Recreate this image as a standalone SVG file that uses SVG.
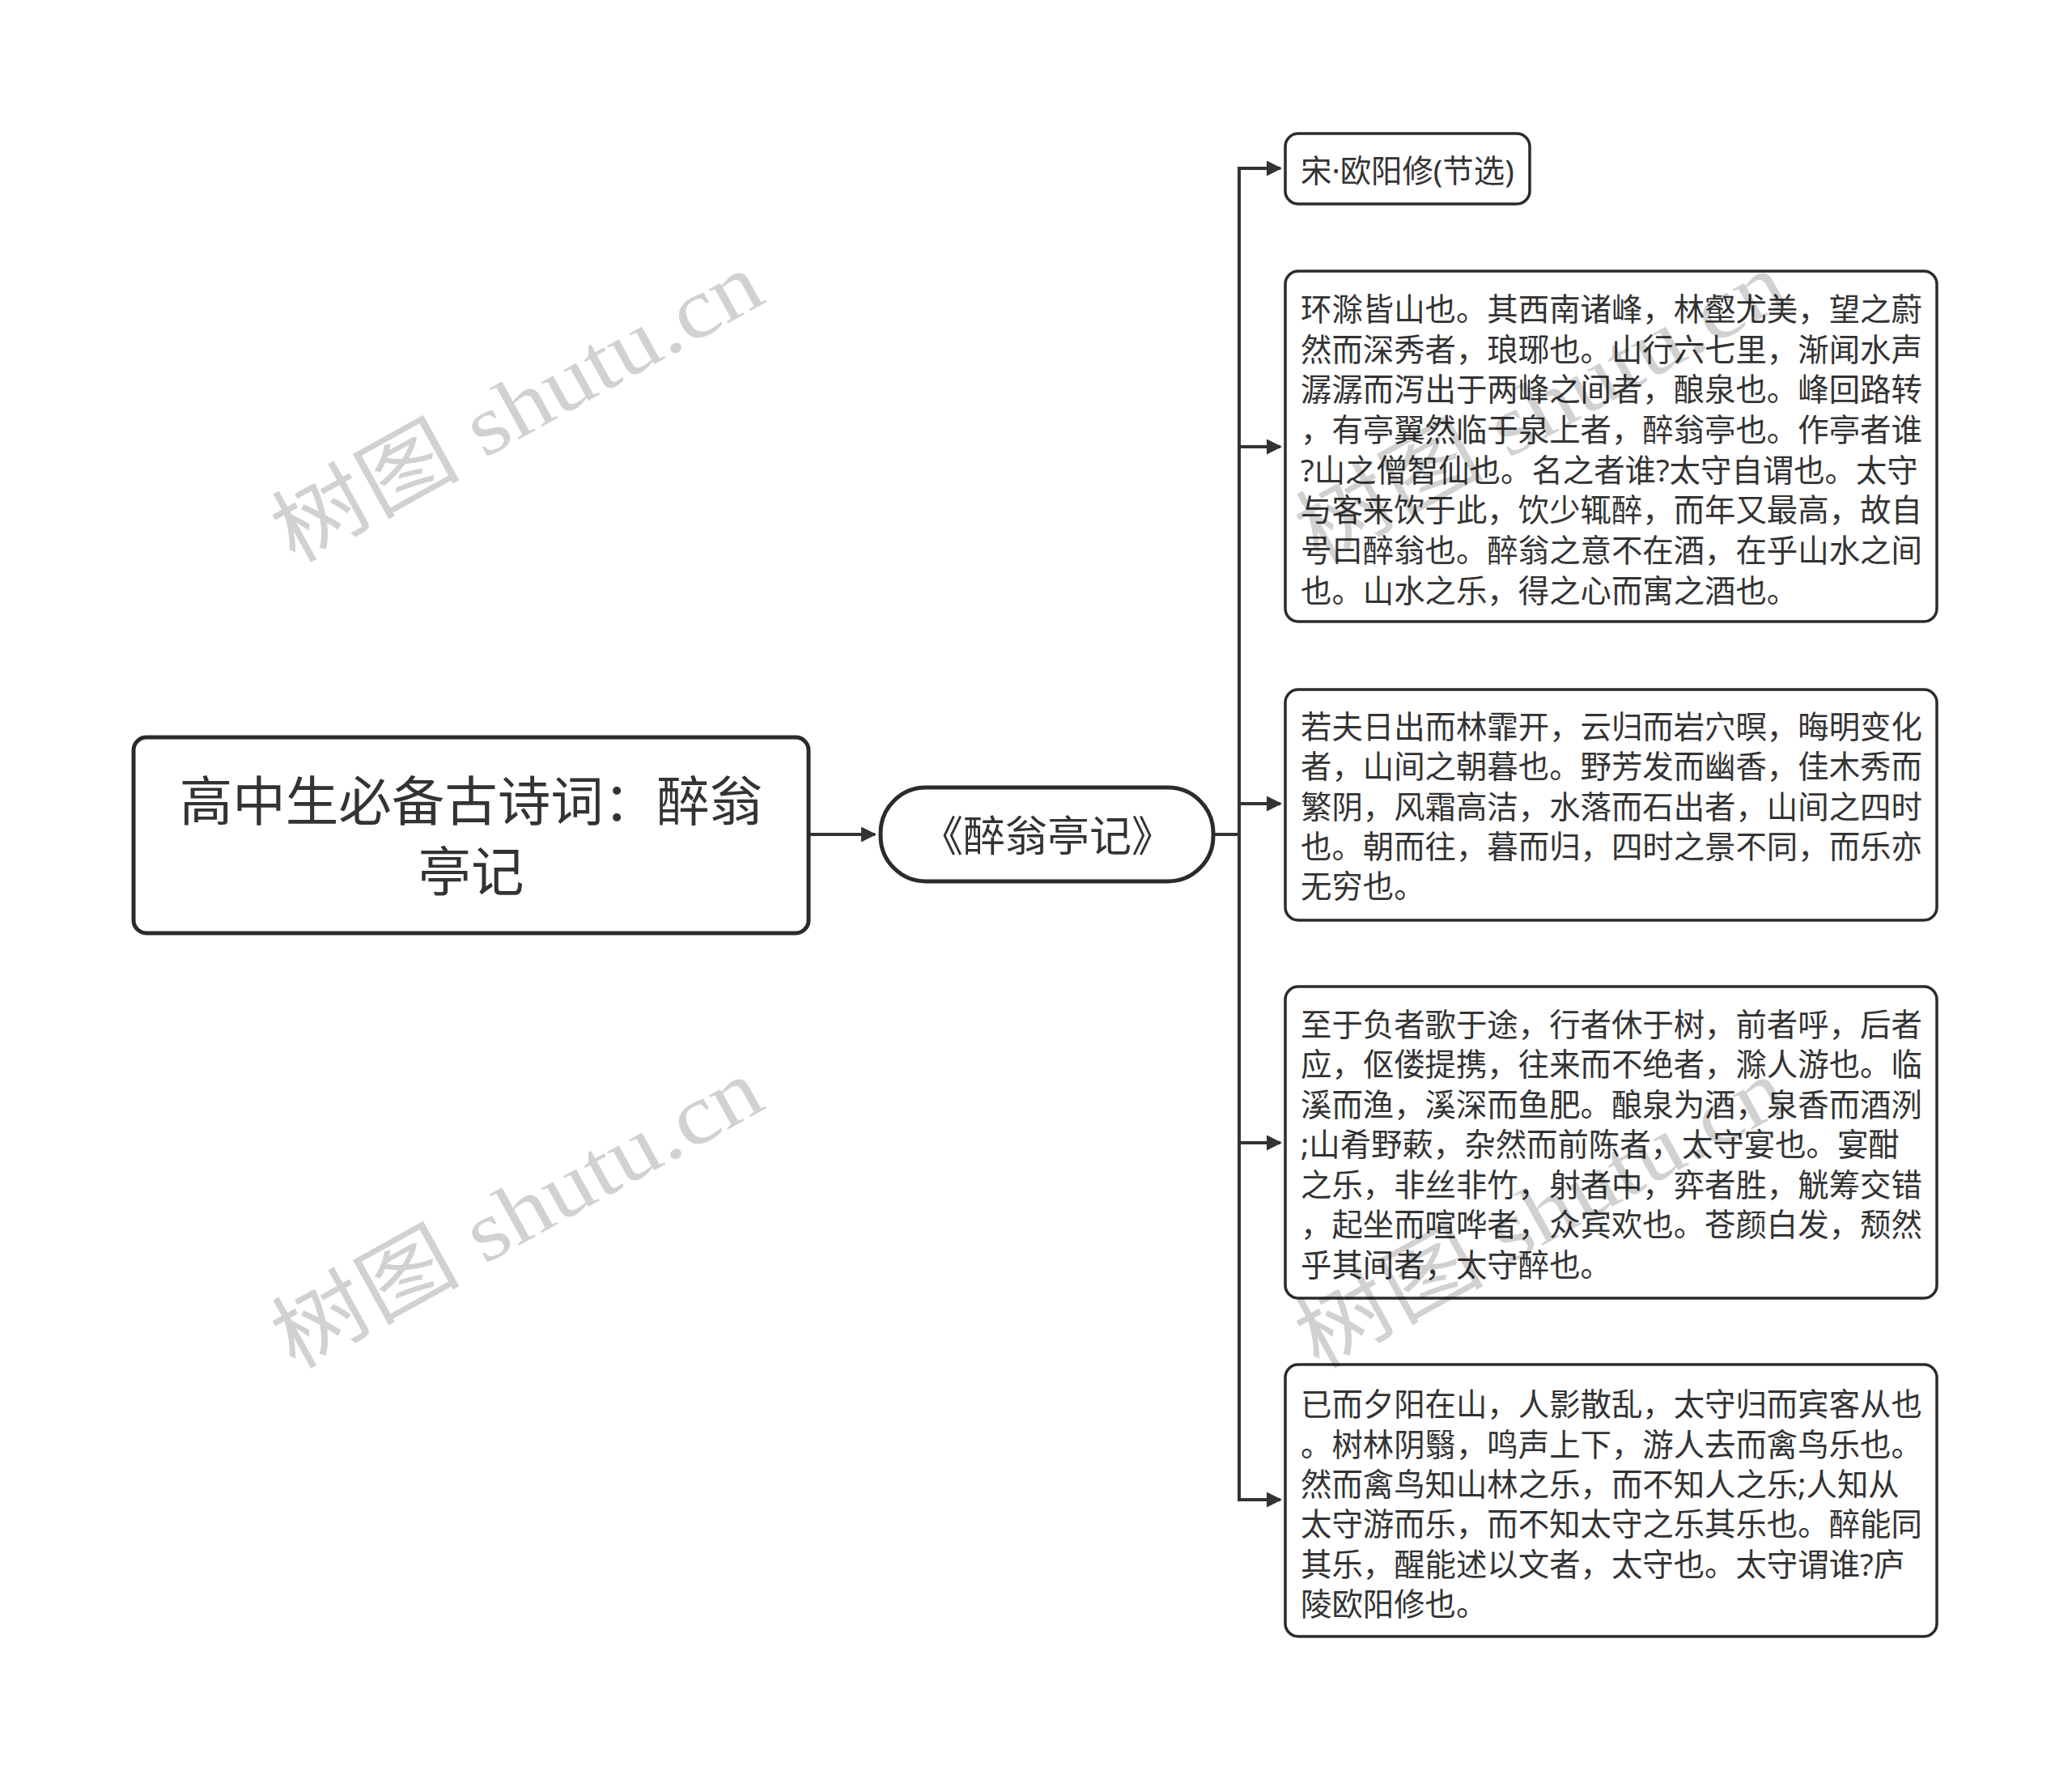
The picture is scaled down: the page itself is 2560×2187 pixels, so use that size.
<svg xmlns="http://www.w3.org/2000/svg" width="2560" height="2187" viewBox="0 0 2560 2187">
<defs>
<style>
.box{fill:#ffffff;stroke:#2b2b2b;stroke-width:3.5}
.root{fill:#ffffff;stroke:#2b2b2b;stroke-width:5}
.t{font-family:"Noto Sans","Noto Sans CJK SC",sans-serif;fill:#333333}
.c{font-size:38.4px}
.conn{fill:none;stroke:#333333;stroke-width:4}
.wm{font-family:"Liberation Serif","Noto Sans CJK SC",serif;font-size:105px;fill:#000000;fill-opacity:0.18}
</style>
<marker id="ah" markerWidth="19" markerHeight="19" refX="17" refY="9.5" orient="auto" markerUnits="userSpaceOnUse">
<path d="M0,0 L19,9.5 L0,19 z" fill="#333333"/>
</marker>
</defs>
<rect width="2560" height="2187" fill="#ffffff"/>

<g id="connectors">
<path class="conn" d="M999,1031 H1081" marker-end="url(#ah)"/>
<path class="conn" d="M1499,1031 H1531"/>
<path class="conn" d="M1531,1031 V208 H1582" marker-end="url(#ah)"/>
<path class="conn" d="M1531,1031 V552 H1582" marker-end="url(#ah)"/>
<path class="conn" d="M1531,1031 V993 H1582" marker-end="url(#ah)"/>
<path class="conn" d="M1531,1031 V1412 H1582" marker-end="url(#ah)"/>
<path class="conn" d="M1531,1031 V1853 H1582" marker-end="url(#ah)"/>
</g>

<g id="node-root">
<rect class="root" x="165" y="911" width="834" height="242" rx="16"/>
<text class="t" font-size="65.5" text-anchor="middle" dominant-baseline="central"><tspan x="582" y="988">高中生必备古诗词：醉翁</tspan><tspan x="582" y="1075">亭记</tspan></text>
</g>

<g id="node-main">
<rect class="root" x="1088" y="973" width="411" height="116" rx="56"/>
<text class="t" font-size="52" x="1294" y="1031" text-anchor="middle" dominant-baseline="central">《醉翁亭记》</text>
</g>

<g id="node-author">
<rect class="box" x="1588" y="165" width="302" height="87" rx="16"/>
<text class="t c" x="1607" y="210" dominant-baseline="central">宋·欧阳修(节选)</text>
</g>

<g id="node-p1">
<rect class="box" x="1588" y="335" width="805" height="433" rx="16"/>
<text class="t c" dominant-baseline="central">
<tspan x="1607" y="381">环滁皆山也。其西南诸峰，林壑尤美，望之蔚</tspan>
<tspan x="1607" y="431">然而深秀者，琅琊也。山行六七里，渐闻水声</tspan>
<tspan x="1607" y="480">潺潺而泻出于两峰之间者，酿泉也。峰回路转</tspan>
<tspan x="1607" y="530">，有亭翼然临于泉上者，醉翁亭也。作亭者谁</tspan>
<tspan x="1607" y="580">?山之僧智仙也。名之者谁?太守自谓也。太守</tspan>
<tspan x="1607" y="629">与客来饮于此，饮少辄醉，而年又最高，故自</tspan>
<tspan x="1607" y="679">号曰醉翁也。醉翁之意不在酒，在乎山水之间</tspan>
<tspan x="1607" y="729">也。山水之乐，得之心而寓之酒也。</tspan>
</text>
</g>

<g id="node-p2">
<rect class="box" x="1588" y="852" width="805" height="285" rx="16"/>
<text class="t c" dominant-baseline="central">
<tspan x="1607" y="897">若夫日出而林霏开，云归而岩穴暝，晦明变化</tspan>
<tspan x="1607" y="946">者，山间之朝暮也。野芳发而幽香，佳木秀而</tspan>
<tspan x="1607" y="996">繁阴，风霜高洁，水落而石出者，山间之四时</tspan>
<tspan x="1607" y="1045">也。朝而往，暮而归，四时之景不同，而乐亦</tspan>
<tspan x="1607" y="1094">无穷也。</tspan>
</text>
</g>

<g id="node-p3">
<rect class="box" x="1588" y="1219" width="805" height="385" rx="16"/>
<text class="t c" dominant-baseline="central">
<tspan x="1607" y="1265">至于负者歌于途，行者休于树，前者呼，后者</tspan>
<tspan x="1607" y="1314">应，伛偻提携，往来而不绝者，滁人游也。临</tspan>
<tspan x="1607" y="1364">溪而渔，溪深而鱼肥。酿泉为酒，泉香而酒洌</tspan>
<tspan x="1607" y="1413">;山肴野蔌，杂然而前陈者，太守宴也。宴酣</tspan>
<tspan x="1607" y="1463">之乐，非丝非竹，射者中，弈者胜，觥筹交错</tspan>
<tspan x="1607" y="1512">，起坐而喧哗者，众宾欢也。苍颜白发，颓然</tspan>
<tspan x="1607" y="1562">乎其间者，太守醉也。</tspan>
</text>
</g>

<g id="node-p4">
<rect class="box" x="1588" y="1686" width="805" height="336" rx="16"/>
<text class="t c" dominant-baseline="central">
<tspan x="1607" y="1734">已而夕阳在山，人影散乱，太守归而宾客从也</tspan>
<tspan x="1607" y="1784">。树林阴翳，鸣声上下，游人去而禽鸟乐也。</tspan>
<tspan x="1607" y="1833">然而禽鸟知山林之乐，而不知人之乐;人知从</tspan>
<tspan x="1607" y="1882">太守游而乐，而不知太守之乐其乐也。醉能同</tspan>
<tspan x="1607" y="1932">其乐，醒能述以文者，太守也。太守谓谁?庐</tspan>
<tspan x="1607" y="1981">陵欧阳修也。</tspan>
</text>
</g>

<g id="watermarks">
<text class="wm" x="363" y="697" transform="rotate(-29 363 697)" textLength="670" lengthAdjust="spacingAndGlyphs">树图 shutu.cn</text>
<text class="wm" x="363" y="1693" transform="rotate(-29 363 1693)" textLength="670" lengthAdjust="spacingAndGlyphs">树图 shutu.cn</text>
<text class="wm" x="1628" y="697" transform="rotate(-29 1628 697)" textLength="670" lengthAdjust="spacingAndGlyphs">树图 shutu.cn</text>
<text class="wm" x="1628" y="1693" transform="rotate(-29 1628 1693)" textLength="670" lengthAdjust="spacingAndGlyphs">树图 shutu.cn</text>
</g>
</svg>
